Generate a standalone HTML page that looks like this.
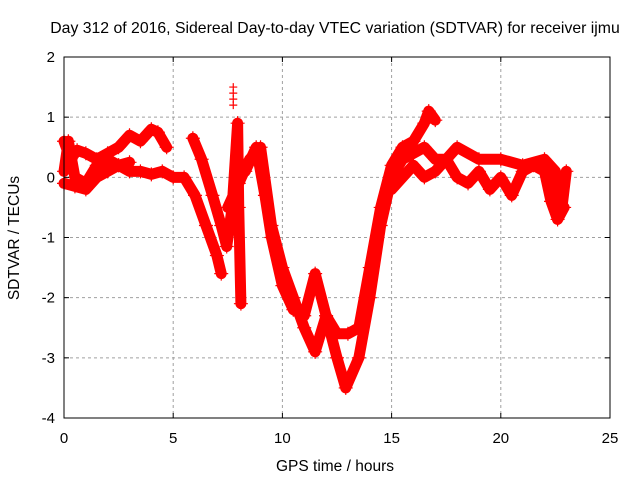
<!DOCTYPE html>
<html><head><meta charset="utf-8"><style>
body{margin:0;background:#fff}
svg{display:block;font-family:"Liberation Sans",sans-serif}
</style></head><body>
<svg id="chart" width="640" height="480">
<rect x="0" y="0" width="640" height="480" fill="#fff"/>
<text x="335" y="33" font-size="15.8" text-anchor="middle">Day 312 of 2016, Sidereal Day-to-day VTEC variation (SDTVAR) for receiver ijmu</text>
<g id="grid"></g>
<g id="series"></g>
<rect x="64" y="57" width="546" height="361" fill="none" stroke="#000" stroke-width="1"/>
<g id="axes"></g>
<text x="335" y="471" font-size="15.5" text-anchor="middle">GPS time / hours</text>
<text transform="translate(19,238) rotate(-90)" font-size="15.5" text-anchor="middle">SDTVAR / TECUs</text>
</svg>
<script>
const xTicks=[0,5,10,15,20,25];
const yTicks=[2,1,0,-1,-2,-3,-4];
const traceAHours=[0,0.3,0.6,1,1.5,2,2.5,3,3.5,4,4.3,4.7];
const traceAValues=[0.6,0.3,0.45,0.4,0.3,0.4,0.5,0.7,0.6,0.8,0.75,0.5];
const traceBHours=[0,0.5,1,1.5,2,2.5,3,3.5,4,4.5,5,5.5,6,6.5,7,7.2];
const traceBValues=[-0.1,-0.15,-0.2,0,0.1,0.2,0.1,0.1,0.05,0.1,0,0,-0.3,-0.8,-1.3,-1.6];
const traceCHours=[5.9,6.3,6.8,7.2,7.45,7.7,7.95,8.0,8.1];
const traceCValues=[0.65,0.3,-0.3,-0.8,-1.15,-0.5,0.9,-0.5,-2.1];
const traceDHours=[7.5,8,8.5,9,9.5,10,10.5,11,11.5,12,12.5,13,13.5,14,14.5,15,15.5,16,16.5,16.7,17];
const traceDValues=[-0.5,-0.1,0.3,0.5,-0.8,-1.5,-2,-2.5,-2.9,-2.3,-2.6,-2.6,-2.5,-1.5,-0.5,0.2,0.5,0.6,0.9,1.1,0.95];
const traceEHours=[8.3,8.8,9.2,9.5,10,10.5,11,11.5,12,12.5,12.9,13.5,14,14.5,15,15.5,16,16.5,17,17.5,18,19,20,21,22,22.5,22.8,23];
const traceEValues=[0.1,0.5,-0.3,-1.0,-1.8,-2.2,-2.3,-1.6,-2.3,-3.0,-3.5,-3.0,-2.0,-0.8,0,0.3,0.4,0.5,0.3,0.3,0.5,0.3,0.3,0.2,0.3,0.1,-0.5,0.1];
const traceFHours=[15,15.5,16,16.5,17,17.5,18,18.5,19,19.5,20,20.5,21,21.5,22,22.3,22.6,22.9];
const traceFValues=[-0.2,0,0.2,0,0.1,0.3,0,-0.1,0.1,-0.2,0,-0.3,0.1,0.2,0.1,-0.4,-0.7,-0.5];
const traceGHours=[0,0.2,0.5,1,1.5,2,2.5,3];
const traceGValues=[0.1,0.6,0.0,-0.1,0.2,0.3,0.2,0.25];

const NS='http://www.w3.org/2000/svg';
function X(h){return 64+h*546/25;}
function Y(v){return 57+(2-v)*361/6;}
const grid=document.getElementById('grid'),axes=document.getElementById('axes'),ser=document.getElementById('series');
function mk(tag,attrs,parent){const e=document.createElementNS(NS,tag);for(const k in attrs)e.setAttribute(k,attrs[k]);parent.appendChild(e);return e;}
xTicks.forEach(t=>{
  const x=X(t);
  if(t>0&&t<25){const g=mk('line',{x1:x,y1:57,x2:x,y2:418,stroke:'#a0a0a0','stroke-dasharray':'3,3'},grid);
  
  }
  mk('line',{x1:x,y1:418,x2:x,y2:413,stroke:'#000'},axes);
  mk('line',{x1:x,y1:57,x2:x,y2:62,stroke:'#000'},axes);
  const l=mk('text',{x:x,y:443,'font-size':15,'text-anchor':'middle'},axes);l.textContent=t;
  
  
});
yTicks.forEach(t=>{
  const y=Y(t);
  if(t<2&&t>-4){const g=mk('line',{x1:64,y1:y,x2:610,y2:y,stroke:'#a0a0a0','stroke-dasharray':'3,3'},grid);
  
  }
  mk('line',{x1:64,y1:y,x2:69,y2:y,stroke:'#000'},axes);
  mk('line',{x1:610,y1:y,x2:605,y2:y,stroke:'#000'},axes);
  const l=mk('text',{x:55,y:y+5,'font-size':15,'text-anchor':'end'},axes);l.textContent=t;
  
  
});
const traces=[[traceAHours,traceAValues],[traceBHours,traceBValues],[traceCHours,traceCValues],[traceDHours,traceDValues],[traceEHours,traceEValues],[traceFHours,traceFValues],[traceGHours,traceGValues]];
traces.forEach((tr,i)=>{
  const pts=tr[0].map((h,j)=>X(h)+','+Y(tr[1][j])).join(' ');
  const pl=mk('polyline',{points:pts,fill:'none',stroke:'#ff0000','stroke-width':11,'stroke-linejoin':'round','stroke-linecap':'round'},ser);
  
  
  tr[0].forEach((h,j)=>{
    const x=X(h),y=Y(tr[1][j]);
    const p=mk('path',{d:`M${x-7},${y}H${x+7}M${x},${y-7}V${y+7}`,stroke:'#ff0000','stroke-width':1.2},ser);
    
    
  });
});
const spikeHours=[7.75,7.75,7.75,7.75];
const spikeValues=[1.5,1.4,1.3,1.2];
spikeHours.forEach((h,j)=>{
  const x=X(h),y=Y(spikeValues[j]);
  const p=mk('path',{d:`M${x-4},${y}H${x+4}M${x},${y-4}V${y+4}`,stroke:'#ff0000','stroke-width':1.2},ser);
  
  
});
</script>
</body></html>
